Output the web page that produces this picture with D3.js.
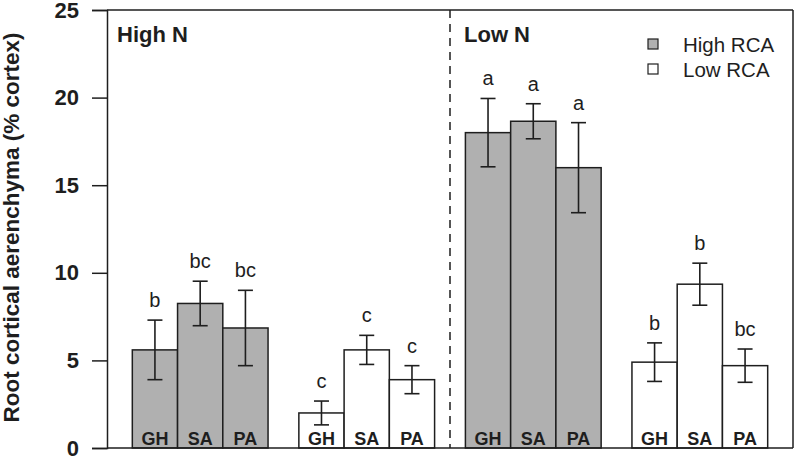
<!DOCTYPE html>
<html>
<head>
<meta charset="utf-8">
<script src="https://cdn.jsdelivr.net/npm/d3@7"></script>
<style>
  html, body { margin: 0; padding: 0; background: #fff; }
  svg { display: block; font-family: "Liberation Sans", Arial, sans-serif; }
</style>
</head>
<body>
<svg id="chart" width="796" height="458"></svg>
<script>
// ---- data ----
const cultivars = ["GH", "SA", "PA"];
const groups = ["HighN_HighRCA", "HighN_LowRCA", "LowN_HighRCA", "LowN_LowRCA"];
const groupRCA = ["High RCA", "Low RCA", "High RCA", "Low RCA"];
const meansHighNHighRCA = [5.6, 8.25, 6.85];
const meansHighNLowRCA = [2.0, 5.6, 3.9];
const meansLowNHighRCA = [18.0, 18.65, 16.0];
const meansLowNLowRCA = [4.9, 9.35, 4.7];
const errHighNHighRCA = [1.7, 1.27, 2.15];
const errHighNLowRCA = [0.68, 0.83, 0.8];
const errLowNHighRCA = [1.95, 1.0, 2.57];
const errLowNLowRCA = [1.1, 1.2, 0.95];
const lettersHighNHighRCA = ["b", "bc", "bc"];
const lettersHighNLowRCA = ["c", "c", "c"];
const lettersLowNHighRCA = ["a", "a", "a"];
const lettersLowNLowRCA = ["b", "b", "bc"];
const yTicks = [0, 5, 10, 15, 20, 25];
const panelLabels = ["High N", "Low N"];
const legendItems = ["High RCA", "Low RCA"];
const yTitle = "Root cortical aerenchyma (% cortex)";

const allMeans = [meansHighNHighRCA, meansHighNLowRCA, meansLowNHighRCA, meansLowNLowRCA];
const allErr = [errHighNHighRCA, errHighNLowRCA, errLowNHighRCA, errLowNLowRCA];
const allLetters = [lettersHighNHighRCA, lettersHighNLowRCA, lettersLowNHighRCA, lettersLowNLowRCA];

const rows = [];
groups.forEach((g, gi) => cultivars.forEach((c, ci) => rows.push({
  group: g, rca: groupRCA[gi], cultivar: c,
  mean: allMeans[gi][ci], err: allErr[gi][ci], letter: allLetters[gi][ci]
})));

// ---- layout ----
const svg = d3.select("#chart");
const L = 107, R = 793, T = 10, B = 448;
const ink = "#1e1e1e";
const fillColor = { "High RCA": "#b0b0b0", "Low RCA": "#ffffff" };

const y = d3.scaleLinear().domain([0, 25]).range([B, T]);
const x0 = d3.scaleBand().domain(groups).range([L, R]).paddingInner(0.185).paddingOuter(0.152);
const x1 = d3.scaleBand().domain(cultivars).range([0, x0.bandwidth()]);

// bars
const bars = svg.append("g");
bars.selectAll("rect").data(rows).join("rect")
  .attr("x", d => x0(d.group) + x1(d.cultivar))
  .attr("y", d => y(d.mean))
  .attr("width", x1.bandwidth())
  .attr("height", d => y(0) - y(d.mean))
  .attr("fill", d => fillColor[d.rca])
  .attr("stroke", ink).attr("stroke-width", 1.5);

// cultivar labels inside bars
bars.selectAll("text").data(rows).join("text")
  .attr("x", d => x0(d.group) + x1(d.cultivar) + x1.bandwidth() / 2)
  .attr("y", B - 3)
  .attr("text-anchor", "middle")
  .attr("font-size", 18).attr("font-weight", "bold").attr("fill", ink)
  .text(d => d.cultivar);

// error bars
const eb = svg.append("g").attr("stroke", ink).attr("stroke-width", 1.6);
const cx = d => x0(d.group) + x1(d.cultivar) + x1.bandwidth() / 2;
const cap = 7.5;
eb.selectAll("line.v").data(rows).join("line").attr("class", "v")
  .attr("x1", cx).attr("x2", cx)
  .attr("y1", d => y(d.mean + d.err)).attr("y2", d => y(d.mean - d.err));
eb.selectAll("line.t").data(rows).join("line").attr("class", "t")
  .attr("x1", d => cx(d) - cap).attr("x2", d => cx(d) + cap)
  .attr("y1", d => y(d.mean + d.err)).attr("y2", d => y(d.mean + d.err));
eb.selectAll("line.b").data(rows).join("line").attr("class", "b")
  .attr("x1", d => cx(d) - cap).attr("x2", d => cx(d) + cap)
  .attr("y1", d => y(d.mean - d.err)).attr("y2", d => y(d.mean - d.err));

// significance letters
svg.append("g").selectAll("text").data(rows).join("text")
  .attr("x", cx)
  .attr("y", d => y(d.mean + d.err) - 13)
  .attr("text-anchor", "middle")
  .attr("font-size", 20).attr("fill", ink)
  .text(d => d.letter);

// frame
const frame = svg.append("g").attr("stroke", ink).attr("stroke-width", 1.5).attr("fill", "none");
frame.append("line").attr("x1", L).attr("x2", R).attr("y1", T).attr("y2", T);
frame.append("line").attr("x1", L).attr("x2", R).attr("y1", B).attr("y2", B);
frame.append("line").attr("x1", R).attr("x2", R).attr("y1", T).attr("y2", B);

// divider
const divX = (x0(groups[1]) + x0.bandwidth() + x0(groups[2])) / 2;
svg.append("line").attr("x1", divX).attr("x2", divX).attr("y1", T).attr("y2", B)
  .attr("stroke", ink).attr("stroke-width", 1.5).attr("stroke-dasharray", "8,6");

// y axis
const yAxis = d3.axisLeft(y).tickValues(yTicks).tickSize(15).tickPadding(13).tickFormat(d3.format("d"));
const ga = svg.append("g").attr("transform", `translate(${L},0)`).call(yAxis);
ga.attr("font-size", 22).attr("font-family", "Liberation Sans, Arial, sans-serif");
ga.select(".domain").attr("stroke", ink).attr("stroke-width", 1.5);
ga.selectAll(".tick line").attr("stroke", ink).attr("stroke-width", 1.5);
ga.selectAll(".tick text").attr("font-size", 22).attr("font-weight", "bold")
  .attr("fill", ink);

// y title
svg.append("text")
  .attr("transform", `translate(19,227.5) rotate(-90)`)
  .attr("text-anchor", "middle")
  .attr("font-size", 22.5).attr("font-weight", "bold").attr("fill", ink)
  .text(yTitle);

// panel labels
svg.append("g").selectAll("text").data(panelLabels).join("text")
  .attr("x", (d, i) => i === 0 ? L + 10 : divX + 14)
  .attr("y", 42)
  .attr("font-size", 22).attr("font-weight", "bold").attr("fill", ink)
  .text(d => d);

// legend
const lg = svg.append("g").attr("transform", "translate(648,39)");
const li = lg.selectAll("g").data(legendItems).join("g")
  .attr("transform", (d, i) => `translate(0,${i * 25})`);
li.append("rect").attr("width", 10).attr("height", 10)
  .attr("fill", d => fillColor[d]).attr("stroke", ink).attr("stroke-width", 1.2);
li.append("text").attr("x", 35).attr("y", 5).attr("dominant-baseline", "central")
  .attr("font-size", 20.5).attr("fill", ink).text(d => d);
</script>
</body>
</html>
